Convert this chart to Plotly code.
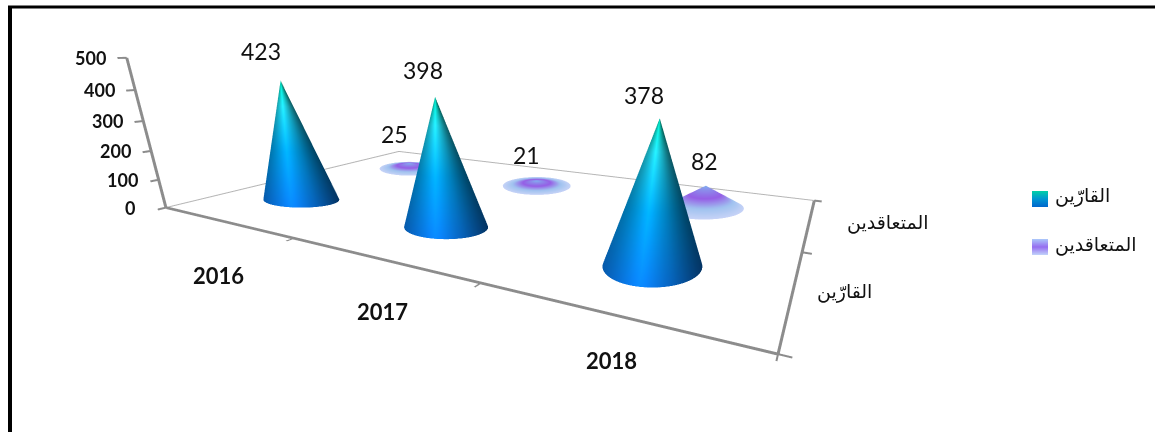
import numpy as np
import plotly.graph_objects as go

years = ["2016", "2017", "2018"]
series_names = ["القارّين", "المتعاقدين"]
readers = [423, 398, 378]
contract = [25, 21, 82]
z_ticks = [0, 100, 200, 300, 400, 500]

# label offsets in pixels
reader_shift = [(-20, 30), (-12, 27), (-16, 23)]
contract_shift = [(-15, 29), (-10, 26), (-1, 25)]
year_shift = [(-6, -54), (5, -53), (1, -47)]
series_shift = [(52, 1), (79, 0)]
# on-screen half width and half height of each cone base, in pixels
reader_base = [(38, 8), (42, 12), (50, 21)]
contract_base = [(30, 7), (34, 9), (40, 11)]

FONT = "Lato, Carlito, 'Open Sans', sans-serif"
AR = "'Liberation Sans', 'DejaVu Sans', 'Noto Sans', sans-serif"

W, H = 1155, 432
EYE = dict(x=2.0447, y=-2.8487, z=0.5782)
CENTER = dict(x=0.6789, y=-0.1106, z=-0.4409)
ASPECT = dict(x=3.9316, y=2.1458, z=0.974)
XR, YR, ZR = (-0.5, 2.5), (-0.5, 1.5), (0, 500)

# same camera model as the scene, used to keep each cone base level on screen
_e = np.array([EYE[k] for k in "xyz"])
_c = np.array([CENTER[k] for k in "xyz"])
_a = np.array([ASPECT[k] for k in "xyz"])
_lo = np.array([XR[0], YR[0], ZR[0]], float)
_hi = np.array([XR[1], YR[1], ZR[1]], float)
_F = (_c - _e) / np.linalg.norm(_c - _e)
_R = np.cross(_F, [0, 0, 1]); _R /= np.linalg.norm(_R)
_U = np.cross(_R, _F)
_f = (H / 2) / np.tan(np.pi / 8)

def to_world(p):
    return ((np.asarray(p, float) - _lo) / (_hi - _lo) - 0.5) * _a

def to_screen(p):
    d = to_world(p) - _e
    z = d @ _F
    return W / 2 + _f * (d @ _R) / z, H / 2 - _f * (d @ _U) / z

def floor_point(u, v):
    ray = _F + _R * (u - W / 2) / _f + _U * (H / 2 - v) / _f
    plane_z = -0.5 * _a[2]
    w = _e + ray * (plane_z - _e[2]) / ray[2]
    return (w / _a + 0.5) * (_hi - _lo) + _lo

def lerp(stops, t):
    ts = [s[0] for s in stops]
    return np.array([np.interp(t, ts, [s[1][i] for s in stops]) for i in range(3)])

BLUE_V = [(0, (10, 125, 240)), (0.45, (0, 165, 240)), (0.8, (35, 220, 240)), (1, (0, 225, 190))]
PURP_V = [(0, (200, 212, 248)), (0.3, (160, 195, 240)), (0.6, (150, 95, 230)), (0.85, (140, 140, 235)), (1, (130, 175, 240))]
LEG_BLUE = [(0, (0, 105, 205)), (0.5, (0, 150, 210)), (1, (0, 205, 170))]
LEG_PURP = [(0, (190, 205, 250)), (0.5, (150, 110, 240)), (1, (170, 195, 250))]
SIDE_S = [-1, -0.25, 0.4, 1]
SIDE_F = [0.72, 1.12, 0.78, 0.42]

def cone(x0, y0, h, kind, base):
    n = 96
    th = np.linspace(0, 2*np.pi, n, endpoint=False)
    levels = np.linspace(0, 1, 26)
    uc, vc = to_screen((x0, y0, 0))
    rim = [floor_point(uc + base[0]*np.cos(a), vc + base[1]*np.sin(a)) for a in th]
    xs, ys, zs, cols = [], [], [], []
    for t in levels:
        for a, r in zip(th, rim):
            xs.append(r[0] + (x0 - r[0])*t)
            ys.append(r[1] + (y0 - r[1])*t)
            zs.append(h*t)
            if kind == 0:
                c = lerp(BLUE_V, t) * np.interp(np.cos(a), SIDE_S, SIDE_F)
            else:
                c = lerp(PURP_V, t)
            cols.append("rgb(%d,%d,%d)" % tuple(np.clip(c, 0, 255)))
    i, j, k = [], [], []
    m = len(levels)
    for l in range(m-1):
        for q in range(n):
            a = l*n + q; b = l*n + (q+1) % n; c = (l+1)*n + q; d = (l+1)*n + (q+1) % n
            i += [a, b]; j += [b, d]; k += [c, c]
    return go.Mesh3d(x=xs, y=ys, z=zs, i=i, j=j, k=k, vertexcolor=cols, hoverinfo="skip",
                     flatshading=False, lighting=dict(ambient=1, diffuse=0, specular=0, fresnel=0), showscale=False)

fig = go.Figure()
for xi, v in enumerate(readers):
    fig.add_trace(cone(xi, 0, v, 0, reader_base[xi]))
for xi, v in enumerate(contract):
    fig.add_trace(cone(xi, 1, v, 1, contract_base[xi]))

# thin floor edges at the back
fig.add_trace(go.Scatter3d(x=[-0.495, -0.495, 2.495], y=[-0.495, 1.495, 1.495], z=[1, 1, 1], mode="lines",
                           line=dict(color="#b5b5b5", width=2), hoverinfo="skip", showlegend=False))

annots = []
dfont = dict(family=FONT, size=23, color="#111")
for xi, v in enumerate(readers):
    annots.append(dict(x=xi, y=0, z=v, text=str(v), showarrow=False, xshift=reader_shift[xi][0], yshift=reader_shift[xi][1], font=dfont))
for xi, v in enumerate(contract):
    annots.append(dict(x=xi, y=1, z=v, text=str(v), showarrow=False, xshift=contract_shift[xi][0], yshift=contract_shift[xi][1], font=dfont))
for xi, y in enumerate(years):
    annots.append(dict(x=xi, y=-0.5, z=0, text="<b>%s</b>" % y, showarrow=False, xshift=year_shift[xi][0], yshift=year_shift[xi][1],
                       font=dict(family=FONT, size=22, color="#111")))
for yi, s in enumerate(series_names):
    annots.append(dict(x=2.5, y=yi, z=0, text=s, showarrow=False, xshift=series_shift[yi][0], yshift=series_shift[yi][1],
                       font=dict(family=AR, size=19, color="#111")))
for t in z_ticks:
    annots.append(dict(x=-0.5, y=-0.5, z=t, text="<b>%d</b>" % t, showarrow=False, xshift=-36, yshift=0,
                       font=dict(family=FONT, size=18, color="#111")))

ax_common = dict(showbackground=False, showgrid=False, zeroline=False, showline=True, linecolor="#8c8c8c", linewidth=6,
                 ticks="outside", tickcolor="#8c8c8c", tickwidth=4, title="", showspikes=False, showticklabels=False)
fig.update_layout(
    width=W, height=H, margin=dict(l=0, r=0, t=0, b=0), paper_bgcolor="white", showlegend=False,
    scene=dict(
        domain=dict(x=[0, 1], y=[0, 1]),
        xaxis=dict(ax_common, range=list(XR), tickvals=[-0.5, 0.5, 1.5, 2.5], ticklen=6),
        yaxis=dict(ax_common, range=list(YR), tickvals=[-0.5, 0.5, 1.5], ticklen=6),
        zaxis=dict(ax_common, range=list(ZR), tickvals=z_ticks, ticklen=6),
        aspectmode="manual", aspectratio=ASPECT,
        camera=dict(eye=EYE, center=CENTER, up=dict(x=0, y=0, z=1), projection=dict(type="perspective")),
        annotations=annots,
    ),
)

shapes = [
    dict(type="line", xref="paper", yref="paper", x0=10/W, x1=10/W, y0=0, y1=1-6/H, line=dict(color="black", width=4)),
    dict(type="line", xref="paper", yref="paper", x0=8/W, x1=1, y0=1-7/H, y1=1-7/H, line=dict(color="black", width=3)),
]
def swatch(px0, py0, stops):
    for r in range(16):
        t = 1 - r/15
        c = lerp(stops, t)
        shapes.append(dict(type="rect", xref="paper", yref="paper", x0=px0/W, x1=(px0+16)/W,
                           y0=1-(py0+r)/H, y1=1-(py0+r+1)/H, line=dict(width=0), fillcolor="rgb(%d,%d,%d)" % tuple(c)))
swatch(1032, 191, LEG_BLUE)
swatch(1032, 239, LEG_PURP)
fig.update_layout(shapes=shapes)
for yy, s in zip([196, 245], series_names):
    fig.add_annotation(xref="paper", yref="paper", x=1053/W, y=1-yy/H, text=s, showarrow=False, xanchor="left",
                       font=dict(family=AR, size=19, color="#111"))

fig.write_html("out.html", config=dict(displayModeBar=False), post_script="document.body.style.margin='0';")
